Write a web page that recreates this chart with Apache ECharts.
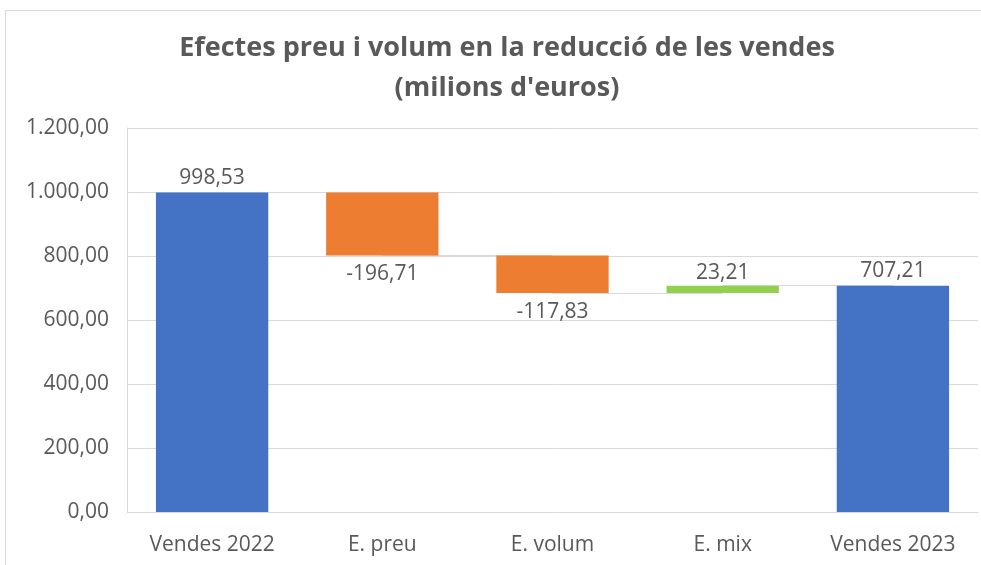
<!DOCTYPE html>
<html>
<head>
<meta charset="utf-8">
<script src="https://cdn.jsdelivr.net/npm/echarts@6/dist/echarts.min.js"></script>
<style>
  html, body { margin: 0; padding: 0; background: #ffffff; }
  #frame {
    position: absolute; left: 5px; top: 10px; width: 1000px; height: 600px;
    border: 1px solid #d9d9d9; box-sizing: border-box;
  }
  #chart { position: absolute; left: 0; top: 0; width: 981px; height: 565px; }
</style>
</head>
<body>
<div id="frame"></div>
<div id="chart"></div>
<script>
// categories i valors (milions d'euros)
const categories = ["Vendes 2022", "E. preu", "E. volum", "E. mix", "Vendes 2023"];
const changes = [998.53, -196.71, -117.83, 23.21, 707.21];
const isTotal = [true, false, false, false, true];
const yTicks = [0, 200, 400, 600, 800, 1000, 1200];

const BLUE = "#4472C4", ORANGE = "#ED7D31", GREEN = "#92D050";
const TXT = "#595959", GRID = "#d9d9d9";
const FONT = "'Open Sans', sans-serif";

function fmt(v) {
  let s = Math.abs(v).toFixed(2).split(".");
  let ip = s[0].replace(/\B(?=(\d{3})+(?!\d))/g, ".");
  return (v < 0 ? "-" : "") + ip + "," + s[1];
}

// base invisible + barra visible
let baseData = [], barData = [], connectors = [];
let level = 0;
for (let i = 0; i < categories.length; i++) {
  let v = changes[i];
  if (isTotal[i]) {
    baseData.push(0);
    barData.push({ value: v, itemStyle: { color: BLUE }, label: { position: "top", distance: 4 } });
    level = v;
  } else {
    let next = level + v;
    baseData.push(Math.min(level, next));
    barData.push({
      value: Math.abs(v),
      itemStyle: { color: v < 0 ? ORANGE : GREEN },
      label: { position: v < 0 ? "bottom" : "top", distance: v < 0 ? 8 : 2 }
    });
    level = next;
  }
  if (i < categories.length - 1) {
    connectors.push([{ coord: [categories[i], level] }, { coord: [categories[i + 1], level] }]);
  }
}

const chart = echarts.init(document.getElementById("chart"));
chart.setOption({
  animation: false,
  title: {
    text: "Efectes preu i volum en la reducció de les vendes\n(milions d'euros)",
    left: 502,
    top: 23,
    textAlign: "center",
    textStyle: {
      color: TXT, fontFamily: FONT, fontWeight: "bold", fontSize: 27, lineHeight: 40
    }
  },
  grid: { left: 127, right: 3, top: 128, bottom: 53 },
  xAxis: {
    type: "category",
    data: categories,
    axisTick: { show: false },
    axisLine: { show: true, lineStyle: { color: GRID, width: 1 } },
    axisLabel: { color: TXT, fontFamily: FONT, fontSize: 21, margin: 23 }
  },
  yAxis: {
    type: "value",
    min: yTicks[0],
    max: yTicks[yTicks.length - 1],
    interval: 200,
    axisLine: { show: true, lineStyle: { color: GRID, width: 1 } },
    axisTick: { show: false },
    splitLine: { lineStyle: { color: GRID, width: 1 } },
    axisLabel: { color: TXT, fontFamily: FONT, fontSize: 21, margin: 18, formatter: v => fmt(v) }
  },
  series: [
    {
      name: "base",
      type: "bar",
      stack: "wf",
      data: baseData,
      itemStyle: { color: "transparent" },
      barCategoryGap: "34%",
      silent: true,
      z: 1,
      markLine: {
        symbol: "none",
        silent: true,
        z: 1,
        label: { show: false },
        lineStyle: { color: GRID, width: 1, type: "solid" },
        data: connectors
      }
    },
    {
      name: "valor",
      type: "bar",
      stack: "wf",
      data: barData,
      barCategoryGap: "34%",
      z: 3,
      label: {
        show: true,
        color: TXT,
        fontFamily: FONT,
        fontSize: 21,
        formatter: p => fmt(changes[p.dataIndex])
      }
    }
  ]
});
</script>
</body>
</html>
